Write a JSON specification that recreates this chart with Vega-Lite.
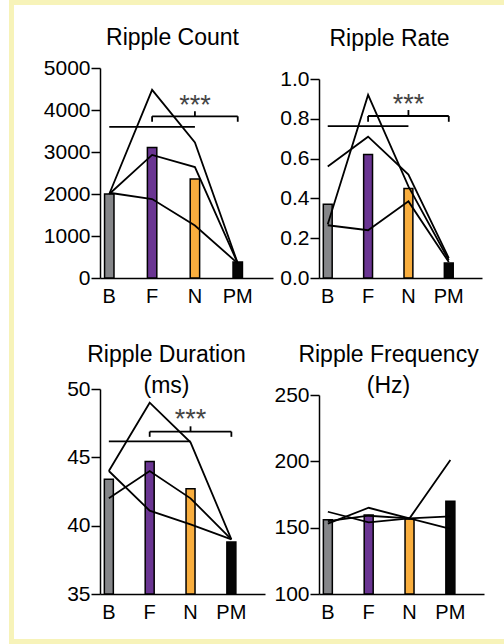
{
  "$schema": "https://vega.github.io/schema/vega-lite/v6.json",
  "background": "white",
  "padding": {"left": 9, "top": 0, "right": 0, "bottom": 0},
  "datasets": {
    "bars": [
      {"panel": "count", "cond": "B", "value": 2000},
      {"panel": "count", "cond": "F", "value": 3110},
      {"panel": "count", "cond": "N", "value": 2360},
      {"panel": "count", "cond": "PM", "value": 380},
      {"panel": "rate", "cond": "B", "value": 0.37},
      {"panel": "rate", "cond": "F", "value": 0.62},
      {"panel": "rate", "cond": "N", "value": 0.45},
      {"panel": "rate", "cond": "PM", "value": 0.075},
      {"panel": "dur", "cond": "B", "value": 43.4},
      {"panel": "dur", "cond": "F", "value": 44.7},
      {"panel": "dur", "cond": "N", "value": 42.7},
      {"panel": "dur", "cond": "PM", "value": 38.8},
      {"panel": "freq", "cond": "B", "value": 156},
      {"panel": "freq", "cond": "F", "value": 159.5},
      {"panel": "freq", "cond": "N", "value": 156.5},
      {"panel": "freq", "cond": "PM", "value": 170}
    ],
    "lines": [
      {"panel": "count", "subject": "s1", "cond": "B", "value": 2000},
      {"panel": "count", "subject": "s1", "cond": "F", "value": 4480},
      {"panel": "count", "subject": "s1", "cond": "N", "value": 3230},
      {"panel": "count", "subject": "s1", "cond": "PM", "value": 350},
      {"panel": "count", "subject": "s2", "cond": "B", "value": 2000},
      {"panel": "count", "subject": "s2", "cond": "F", "value": 2930},
      {"panel": "count", "subject": "s2", "cond": "N", "value": 2640},
      {"panel": "count", "subject": "s2", "cond": "PM", "value": 350},
      {"panel": "count", "subject": "s3", "cond": "B", "value": 2030},
      {"panel": "count", "subject": "s3", "cond": "F", "value": 1880},
      {"panel": "count", "subject": "s3", "cond": "N", "value": 1250},
      {"panel": "count", "subject": "s3", "cond": "PM", "value": 350},
      {"panel": "rate", "subject": "s1", "cond": "B", "value": 0.27},
      {"panel": "rate", "subject": "s1", "cond": "F", "value": 0.92},
      {"panel": "rate", "subject": "s1", "cond": "N", "value": 0.46},
      {"panel": "rate", "subject": "s1", "cond": "PM", "value": 0.09},
      {"panel": "rate", "subject": "s2", "cond": "B", "value": 0.56},
      {"panel": "rate", "subject": "s2", "cond": "F", "value": 0.71},
      {"panel": "rate", "subject": "s2", "cond": "N", "value": 0.52},
      {"panel": "rate", "subject": "s2", "cond": "PM", "value": 0.1},
      {"panel": "rate", "subject": "s3", "cond": "B", "value": 0.265},
      {"panel": "rate", "subject": "s3", "cond": "F", "value": 0.24},
      {"panel": "rate", "subject": "s3", "cond": "N", "value": 0.385},
      {"panel": "rate", "subject": "s3", "cond": "PM", "value": 0.08},
      {"panel": "dur", "subject": "s1", "cond": "B", "value": 44},
      {"panel": "dur", "subject": "s1", "cond": "F", "value": 49},
      {"panel": "dur", "subject": "s1", "cond": "N", "value": 46.1},
      {"panel": "dur", "subject": "s1", "cond": "PM", "value": 39},
      {"panel": "dur", "subject": "s2", "cond": "B", "value": 42},
      {"panel": "dur", "subject": "s2", "cond": "F", "value": 44},
      {"panel": "dur", "subject": "s2", "cond": "N", "value": 42},
      {"panel": "dur", "subject": "s2", "cond": "PM", "value": 39},
      {"panel": "dur", "subject": "s3", "cond": "B", "value": 44},
      {"panel": "dur", "subject": "s3", "cond": "F", "value": 41.1},
      {"panel": "dur", "subject": "s3", "cond": "N", "value": 40.1},
      {"panel": "dur", "subject": "s3", "cond": "PM", "value": 39},
      {"panel": "freq", "subject": "s1", "cond": "B", "value": 153},
      {"panel": "freq", "subject": "s1", "cond": "F", "value": 165},
      {"panel": "freq", "subject": "s1", "cond": "N", "value": 157},
      {"panel": "freq", "subject": "s1", "cond": "PM", "value": 201},
      {"panel": "freq", "subject": "s2", "cond": "B", "value": 162},
      {"panel": "freq", "subject": "s2", "cond": "F", "value": 154},
      {"panel": "freq", "subject": "s2", "cond": "N", "value": 157},
      {"panel": "freq", "subject": "s2", "cond": "PM", "value": 149},
      {"panel": "freq", "subject": "s3", "cond": "B", "value": 155},
      {"panel": "freq", "subject": "s3", "cond": "F", "value": 159},
      {"panel": "freq", "subject": "s3", "cond": "N", "value": 157},
      {"panel": "freq", "subject": "s3", "cond": "PM", "value": 158.5}
    ],
    "hsig": [
      {"panel": "count", "cond": "B", "cond2": "N", "value": 3600},
      {"panel": "count", "cond": "F", "cond2": "PM", "value": 3850},
      {"panel": "rate", "cond": "B", "cond2": "N", "value": 0.763},
      {"panel": "rate", "cond": "F", "cond2": "PM", "value": 0.814},
      {"panel": "dur", "cond": "B", "cond2": "N", "value": 46.17},
      {"panel": "dur", "cond": "F", "cond2": "PM", "value": 46.88}
    ],
    "vsig": [
      {"panel": "count", "cond": "F", "value": 3850, "value2": 3720},
      {"panel": "count", "cond": "PM", "value": 3850, "value2": 3720},
      {"panel": "count", "cond": "N", "value": 3850, "value2": 3970},
      {"panel": "rate", "cond": "F", "value": 0.814, "value2": 0.785},
      {"panel": "rate", "cond": "PM", "value": 0.814, "value2": 0.785},
      {"panel": "rate", "cond": "N", "value": 0.814, "value2": 0.844},
      {"panel": "dur", "cond": "F", "value": 46.88, "value2": 46.5},
      {"panel": "dur", "cond": "PM", "value": 46.88, "value2": 46.5},
      {"panel": "dur", "cond": "N", "value": 46.88, "value2": 47.27}
    ],
    "stars": [
      {"panel": "count", "cond": "N", "value": 4270, "label": "***"},
      {"panel": "rate", "cond": "N", "value": 0.903, "label": "***"},
      {"panel": "dur", "cond": "N", "value": 48.27, "label": "***"}
    ]
  },
  "spacing": 0,
  "hconcat": [
    {
      "width": 5, "height": 644,
      "data": {"values": []},
      "mark": "point", "encoding": {},
      "view": {"fill": "#f7f3b9", "stroke": null}
    },
    {
      "spacing": 0,
      "vconcat": [
        {"width": 490, "height": 5, "data": {"values": []}, "mark": "point", "encoding": {}, "view": {"fill": "#f7f3b9", "stroke": null}},
        {"width": 1, "height": 22, "data": {"values": []}, "mark": "point", "encoding": {}},
        {
          "columns": 2,
          "spacing": {"row": 38, "column": 0},
          "concat": [
            {
              "width": 259, "height": 210,
              "title": {"text": "Ripple Count", "offset": 7, "dx": 29},
              "encoding": {
                "x": {"field": "cond", "type": "nominal", "scale": {"type": "band", "domain": ["B", "F", "N", "PM"], "range": [86, 259], "paddingInner": 0.78, "paddingOuter": 0.41, "align": 0.13}},
                "y": {"field": "value", "type": "quantitative", "scale": {"domain": [0, 5000], "nice": false}, "axis": {"values": [0, 1000, 2000, 3000, 4000, 5000], "format": "d", "offset": -86}}
              },
              "layer": [
                {
                  "data": {"name": "bars"}, "transform": [{"filter": "datum.panel == 'count'"}],
                  "mark": {"type": "bar", "stroke": "black", "strokeWidth": 1.5},
                  "encoding": {"color": {"field": "cond", "type": "nominal", "scale": {"domain": ["B", "F", "N", "PM"], "range": ["#858689", "#6a3592", "#f9ae3e", "#050505"]}, "legend": null}}
                },
                {
                  "data": {"name": "lines"}, "transform": [{"filter": "datum.panel == 'count'"}],
                  "mark": {"type": "line", "color": "black", "strokeWidth": 1.8},
                  "encoding": {"detail": {"field": "subject"}}
                },
                {
                  "data": {"name": "hsig"}, "transform": [{"filter": "datum.panel == 'count'"}],
                  "mark": {"type": "rule", "color": "black", "strokeWidth": 1.8},
                  "encoding": {"x2": {"field": "cond2"}}
                },
                {
                  "data": {"name": "vsig"}, "transform": [{"filter": "datum.panel == 'count'"}],
                  "mark": {"type": "rule", "color": "black", "strokeWidth": 1.8},
                  "encoding": {"y2": {"field": "value2"}}
                },
                {
                  "data": {"name": "stars"}, "transform": [{"filter": "datum.panel == 'count'"}],
                  "mark": {"type": "text", "fontSize": 27, "color": "#444", "baseline": "alphabetic", "dy": 15},
                  "encoding": {"text": {"field": "label"}}
                }
              ]
            },
            {
              "width": 205, "height": 210,
              "title": {"text": "Ripple Rate", "offset": 17, "dx": 10},
              "encoding": {
                "x": {"field": "cond", "type": "nominal", "scale": {"type": "band", "domain": ["B", "F", "N", "PM"], "range": [42, 205], "paddingInner": 0.78, "paddingOuter": 0.41, "align": 0.13}},
                "y": {"field": "value", "type": "quantitative", "scale": {"domain": [0, 1], "nice": false, "range": [210, 11]}, "axis": {"values": [0, 0.2, 0.4, 0.6, 0.8, 1.0], "format": ".1f", "offset": -42}}
              },
              "layer": [
                {
                  "data": {"name": "bars"}, "transform": [{"filter": "datum.panel == 'rate'"}],
                  "mark": {"type": "bar", "stroke": "black", "strokeWidth": 1.5},
                  "encoding": {"color": {"field": "cond", "type": "nominal", "scale": {"domain": ["B", "F", "N", "PM"], "range": ["#858689", "#6a3592", "#f9ae3e", "#050505"]}, "legend": null}}
                },
                {
                  "data": {"name": "lines"}, "transform": [{"filter": "datum.panel == 'rate'"}],
                  "mark": {"type": "line", "color": "black", "strokeWidth": 1.8},
                  "encoding": {"detail": {"field": "subject"}}
                },
                {
                  "data": {"name": "hsig"}, "transform": [{"filter": "datum.panel == 'rate'"}],
                  "mark": {"type": "rule", "color": "black", "strokeWidth": 1.8},
                  "encoding": {"x2": {"field": "cond2"}}
                },
                {
                  "data": {"name": "vsig"}, "transform": [{"filter": "datum.panel == 'rate'"}],
                  "mark": {"type": "rule", "color": "black", "strokeWidth": 1.8},
                  "encoding": {"y2": {"field": "value2"}}
                },
                {
                  "data": {"name": "stars"}, "transform": [{"filter": "datum.panel == 'rate'"}],
                  "mark": {"type": "text", "fontSize": 27, "color": "#444", "baseline": "alphabetic", "dy": 15},
                  "encoding": {"text": {"field": "label"}}
                }
              ]
            },
            {
              "width": 251, "height": 205,
              "title": {"text": ["Ripple Duration", "(ms)"], "offset": -20, "dx": 27},
              "encoding": {
                "x": {"field": "cond", "type": "nominal", "scale": {"type": "band", "domain": ["B", "F", "N", "PM"], "range": [86, 251], "paddingInner": 0.78, "paddingOuter": 0.41, "align": 0.13}},
                "y": {"field": "value", "type": "quantitative", "scale": {"domain": [35, 50], "nice": false, "zero": false}, "axis": {"values": [35, 40, 45, 50], "format": "d", "offset": -86}}
              },
              "layer": [
                {
                  "data": {"name": "bars"}, "transform": [{"filter": "datum.panel == 'dur'"}],
                  "mark": {"type": "bar", "stroke": "black", "strokeWidth": 1.5},
                  "encoding": {"y2": {"datum": 35}, "color": {"field": "cond", "type": "nominal", "scale": {"domain": ["B", "F", "N", "PM"], "range": ["#858689", "#6a3592", "#f9ae3e", "#050505"]}, "legend": null}}
                },
                {
                  "data": {"name": "lines"}, "transform": [{"filter": "datum.panel == 'dur'"}],
                  "mark": {"type": "line", "color": "black", "strokeWidth": 1.8},
                  "encoding": {"detail": {"field": "subject"}}
                },
                {
                  "data": {"name": "hsig"}, "transform": [{"filter": "datum.panel == 'dur'"}],
                  "mark": {"type": "rule", "color": "black", "strokeWidth": 1.8},
                  "encoding": {"x2": {"field": "cond2"}}
                },
                {
                  "data": {"name": "vsig"}, "transform": [{"filter": "datum.panel == 'dur'"}],
                  "mark": {"type": "rule", "color": "black", "strokeWidth": 1.8},
                  "encoding": {"y2": {"field": "value2"}}
                },
                {
                  "data": {"name": "stars"}, "transform": [{"filter": "datum.panel == 'dur'"}],
                  "mark": {"type": "text", "fontSize": 27, "color": "#444", "baseline": "alphabetic", "dy": 15},
                  "encoding": {"text": {"field": "label"}}
                }
              ]
            },
            {
              "width": 207, "height": 205,
              "title": {"text": ["Ripple Frequency", "(Hz)"], "offset": -14, "dx": 8},
              "encoding": {
                "x": {"field": "cond", "type": "nominal", "scale": {"type": "band", "domain": ["B", "F", "N", "PM"], "range": [42, 207], "paddingInner": 0.78, "paddingOuter": 0.41, "align": 0.13}},
                "y": {"field": "value", "type": "quantitative", "scale": {"domain": [100, 250], "nice": false, "zero": false, "range": [205, 6]}, "axis": {"values": [100, 150, 200, 250], "format": "d", "offset": -42}}
              },
              "layer": [
                {
                  "data": {"name": "bars"}, "transform": [{"filter": "datum.panel == 'freq'"}],
                  "mark": {"type": "bar", "stroke": "black", "strokeWidth": 1.5},
                  "encoding": {"y2": {"datum": 100}, "color": {"field": "cond", "type": "nominal", "scale": {"domain": ["B", "F", "N", "PM"], "range": ["#858689", "#6a3592", "#f9ae3e", "#050505"]}, "legend": null}}
                },
                {
                  "data": {"name": "lines"}, "transform": [{"filter": "datum.panel == 'freq'"}],
                  "mark": {"type": "line", "color": "black", "strokeWidth": 1.8},
                  "encoding": {"detail": {"field": "subject"}}
                }
              ]
            }
          ]
        },
        {"width": 1, "height": 17, "data": {"values": []}, "mark": "point", "encoding": {}},
        {"width": 490, "height": 5, "data": {"values": []}, "mark": "point", "encoding": {}, "view": {"fill": "#f7f3b9", "stroke": null}}
      ]
    }
  ],
  "config": {
    "view": {"stroke": null},
    "font": "Liberation Sans",
    "axis": {"grid": false, "title": null, "domainColor": "black", "domainWidth": 1.5, "tickColor": "black", "tickWidth": 1.5, "labelColor": "black", "labelFont": "Liberation Sans", "labelOverlap": false},
    "axisX": {"ticks": false, "tickSize": 0, "labelPadding": 8, "labelFontSize": 20, "labelAngle": 0},
    "axisY": {"tickSize": 9, "labelPadding": 1, "labelFontSize": 21},
    "title": {"font": "Liberation Sans", "fontSize": 23, "fontWeight": "normal", "color": "black", "anchor": "middle", "frame": "group", "lineHeight": 31}
  }
}
